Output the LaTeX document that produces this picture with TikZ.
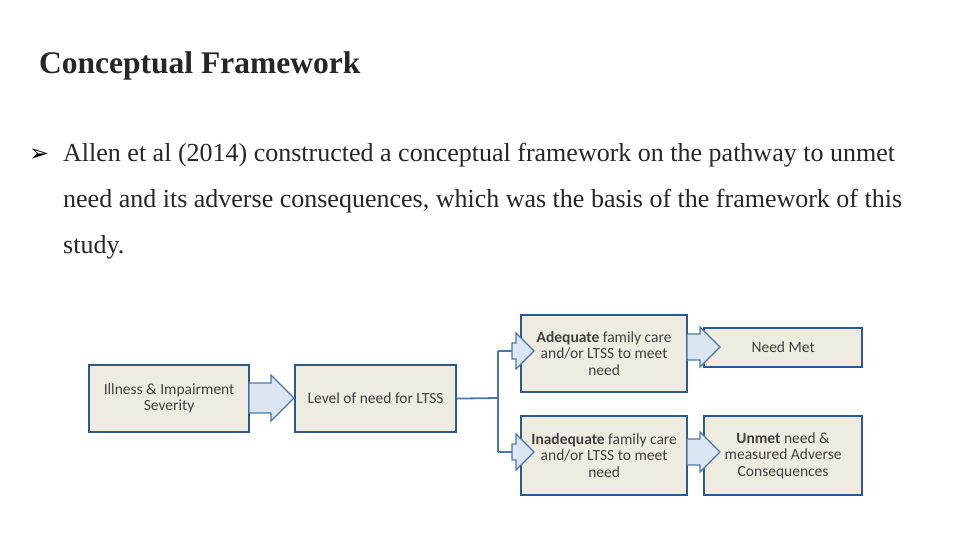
\documentclass[tikz,border=0pt]{standalone}
\usepackage{fontspec}
\setmainfont{Liberation Serif}
\newfontfamily\boxfont{Carlito}
\newfontfamily\symfont{DejaVu Sans}
\begin{document}
\begin{tikzpicture}[x=1pt,y=-1pt,
  box/.style={draw=boxblue,line width=2.2pt,fill=boxfill,font=\boxfont\fontsize{15.5}{16.5}\selectfont,text=black!75,align=center,inner sep=0pt,anchor=north west},
  barrow/.style={draw=arrblue,line width=1.3pt,fill=arrfill,line join=miter}]
\definecolor{boxblue}{HTML}{2C5A88}
\definecolor{boxfill}{HTML}{EEECE1}
\definecolor{arrblue}{HTML}{4A78AE}
\definecolor{arrfill}{HTML}{DCE6F2}
\useasboundingbox (0,0) rectangle (960,540);
\node[anchor=west,font=\bfseries\fontsize{31.5}{36}\selectfont,text=black!85,inner sep=0pt] (title) at (39,66) {Conceptual Framework};
\node[anchor=west,font=\symfont\fontsize{24}{28}\selectfont,inner sep=0pt] (bul) at (29,155) {➢};
\node[anchor=west,align=left,font=\fontsize{26}{46}\selectfont,text=black!85,inner sep=0pt] (txt) at (63,201)
 {Allen et al (2014) constructed a conceptual framework on the pathway to unmet\\need and its adverse consequences, which was the basis of the framework of this\\study.};
\newcommand{\barr}[5]{%
 \draw[barrow] (#1,#2-#4) -- (#1+#3,#2-#4) -- (#1+#3,#2-#5) -- (#1+#3+#5,#2) -- (#1+#3,#2+#5) -- (#1+#3,#2+#4) -- (#1,#2+#4) -- cycle;}
\node[box,minimum width=160pt,minimum height=67pt] (ill) at (88,364) {Illness \& Impairment\\Severity};
\node[box,minimum width=161pt,minimum height=67pt] (lev) at (294,364) {Level of need for LTSS};
\node[box,minimum width=166pt,minimum height=77pt] (ade) at (520,314) {\textbf{Adequate} family care\\and/or LTSS to meet\\need};
\node[box,minimum width=158pt,minimum height=39pt] (met) at (703,327) {Need Met};
\node[box,minimum width=166pt,minimum height=79pt] (ina) at (520,415) {\textbf{Inadequate} family care\\and/or LTSS to meet\\need};
\node[box,minimum width=158pt,minimum height=79pt] (unm) at (703,415) {\textbf{Unmet} need \&\\measured Adverse\\Consequences};
\coordinate (br) at (498,398);
\draw[arrblue,line width=1.8pt] (lev.east) -- (br) (498,351) -- (498,452) (498,351) -- (512,351) (498,452) -- (512,452);
\barr{249}{398}{22}{15}{23}
\barr{512}{351}{4}{8}{18}
\barr{512}{452}{4}{8}{18}
\barr{687}{347}{13}{13}{20}
\barr{687}{452}{13}{13}{20}
\end{tikzpicture}
\end{document}
